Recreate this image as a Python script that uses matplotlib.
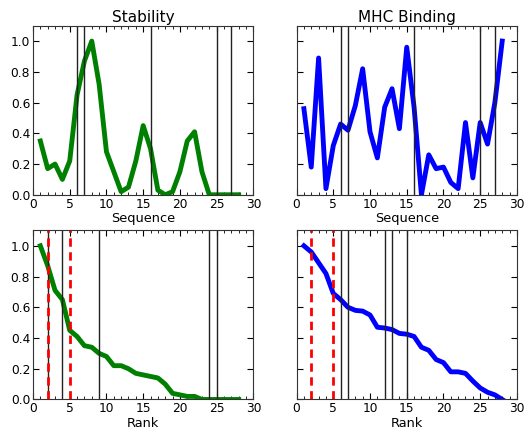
import matplotlib
matplotlib.use("Agg")
import matplotlib.pyplot as plt
from matplotlib.ticker import MultipleLocator

positions = list(range(1, 29))
stability = [0.35, 0.17, 0.20, 0.10, 0.22, 0.65, 0.87, 1.00, 0.72, 0.28,
             0.15, 0.02, 0.05, 0.22, 0.45, 0.30, 0.03, 0.00, 0.02, 0.15,
             0.35, 0.41, 0.15, 0.00, 0.00, 0.00, 0.00, 0.00]
mhc = [0.56, 0.18, 0.89, 0.04, 0.32, 0.46, 0.42, 0.58, 0.82, 0.41,
       0.24, 0.57, 0.69, 0.43, 0.96, 0.57, 0.00, 0.26, 0.17, 0.18,
       0.08, 0.04, 0.47, 0.11, 0.47, 0.33, 0.60, 1.00]
stability_ranked = [1.00, 0.87, 0.71, 0.65, 0.45, 0.41, 0.35, 0.34, 0.30, 0.28,
                    0.22, 0.22, 0.20, 0.17, 0.16, 0.15, 0.14, 0.10, 0.04, 0.03,
                    0.02, 0.02, 0.00, 0.00, 0.00, 0.00, 0.00, 0.00]
mhc_ranked = [1.00, 0.96, 0.89, 0.82, 0.69, 0.65, 0.60, 0.58, 0.575, 0.55,
              0.47, 0.465, 0.455, 0.43, 0.425, 0.41, 0.34, 0.32, 0.26, 0.24,
              0.18, 0.18, 0.17, 0.12, 0.075, 0.047, 0.03, 0.00]
seq_marks = [6, 7, 16, 25, 27]
stab_rank_marks = [2, 4, 9, 24, 25]
mhc_rank_marks = [6, 7, 12, 13, 15]
red_marks = [2, 5]

fig = plt.figure(figsize=(5.28, 4.33), dpi=100)
fig.subplots_adjust(left=0.0625, right=0.979, top=0.9406, bottom=0.0774,
                    wspace=0.196, hspace=0.211)
axes = fig.subplots(2, 2)

LABEL_FS = 9.3

def style(ax, ylabels=True):
    ax.set_xlim(0, 30)
    ax.set_ylim(0, 1.1)
    ax.xaxis.set_major_locator(MultipleLocator(5))
    ax.xaxis.set_minor_locator(MultipleLocator(1))
    ax.yaxis.set_major_locator(MultipleLocator(0.2))
    ax.tick_params(which='both', direction='in', top=True, right=True,
                   labelsize=8.8, pad=2)
    ax.tick_params(which='major', length=4)
    ax.tick_params(which='minor', length=2)
    for s in ax.spines.values():
        s.set_color('#333333')
    if not ylabels:
        ax.set_yticklabels([])

ax = axes[0, 0]
ax.plot(positions, stability, color='green', lw=3.5)
for v in seq_marks:
    ax.axvline(v, color='#222222', lw=1)
style(ax)
ax.set_title('Stability', fontsize=11, pad=3)
ax.set_xlabel('Sequence', fontsize=LABEL_FS, labelpad=1)

ax = axes[0, 1]
ax.plot(positions, mhc, color='blue', lw=3.5)
for v in seq_marks:
    ax.axvline(v, color='#222222', lw=1)
style(ax, ylabels=False)
ax.set_title('MHC Binding', fontsize=11, pad=3)
ax.set_xlabel('Sequence', fontsize=LABEL_FS, labelpad=1)

ax = axes[1, 0]
ax.plot(positions, stability_ranked, color='green', lw=3.5)
for v in stab_rank_marks:
    ax.axvline(v, color='#222222', lw=1)
for v in red_marks:
    ax.axvline(v, color='red', lw=2, ls='--', dashes=(3, 2))
style(ax)
ax.set_xlabel('Rank', fontsize=LABEL_FS, labelpad=1)

ax = axes[1, 1]
ax.plot(positions, mhc_ranked, color='blue', lw=3.5)
for v in red_marks:
    ax.axvline(v, color='red', lw=2, ls='--', dashes=(3, 2))
for v in mhc_rank_marks:
    ax.axvline(v, color='#222222', lw=1)
style(ax, ylabels=False)
ax.set_xlabel('Rank', fontsize=LABEL_FS, labelpad=1)

fig.savefig('out.png', dpi=100)
